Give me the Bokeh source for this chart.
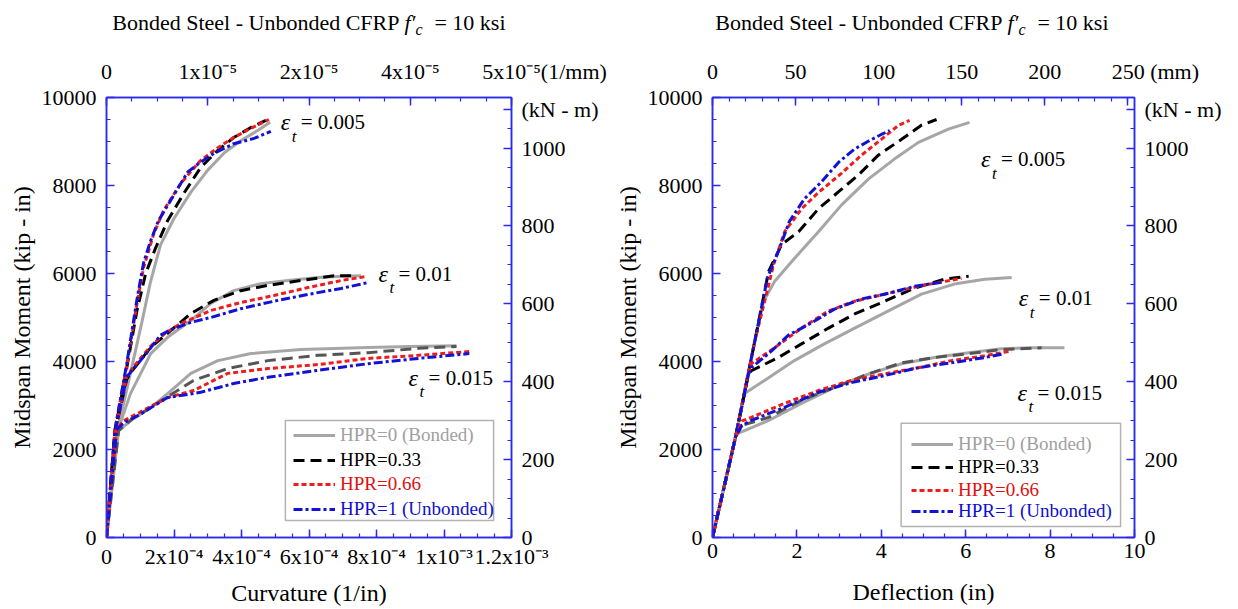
from bokeh.plotting import figure
from bokeh.models import Range1d, LinearAxis, FixedTicker, Label, Legend, LegendItem, BoxAnnotation
from bokeh.layouts import row, column
from bokeh.embed import file_html
from bokeh.resources import INLINE

FONT = "Liberation Serif"
AX_BLUE = "#2a2ae8"
KIPIN_TO_KNM = 0.112985
NB = "\u00a0"

# ---------------- data: left panel (curvature 1/in, moment kip-in) ----------------
series_names = ["HPR=0 (Bonded)", "HPR=0.33", "HPR=0.66", "HPR=1 (Unbonded)"]
strain_labels = ["0.005", "0.01", "0.015"]
title_main = "Bonded Steel - Unbonded CFRP"
title_tail = "= 10 ksi"

curv_e005_hpr0 = [0, 3.0e-5, 7.0e-5, 1.05e-4, 1.30e-4, 1.60e-4, 2.00e-4, 2.50e-4, 3.00e-4, 3.50e-4, 4.00e-4, 4.50e-4, 4.85e-4]
mom_c_e005_hpr0 = [0, 2350, 3700, 4900, 5800, 6650, 7250, 7850, 8350, 8750, 9030, 9260, 9440]
curv_e005_hpr033 = [0, 2.5e-5, 6.0e-5, 9.0e-5, 1.16e-4, 1.46e-4, 1.81e-4, 2.29e-4, 2.79e-4, 3.30e-4, 3.77e-4, 4.28e-4, 4.72e-4]
mom_c_e005_hpr033 = [0, 2400, 3850, 5150, 6000, 6590, 7200, 7820, 8410, 8800, 9090, 9320, 9480]
curv_e005_hpr066 = [0, 2.5e-5, 6.0e-5, 9.0e-5, 1.10e-4, 1.40e-4, 1.69e-4, 2.20e-4, 2.79e-4, 3.30e-4, 3.77e-4, 4.28e-4, 4.81e-4]
mom_c_e005_hpr066 = [0, 2450, 3900, 5300, 6140, 6900, 7430, 8050, 8570, 8860, 9090, 9300, 9500]
curv_e005_hpr1 = [0, 2.5e-5, 6.0e-5, 9.0e-5, 1.10e-4, 1.31e-4, 1.54e-4, 1.90e-4, 2.40e-4, 2.73e-4, 3.18e-4, 3.77e-4, 4.37e-4, 4.87e-4]
mom_c_e005_hpr1 = [0, 2450, 3950, 5400, 6250, 6750, 7200, 7660, 8300, 8500, 8730, 8950, 9070, 9230]

curv_e01_hpr0 = [0, 3.0e-5, 7.1e-5, 1.31e-4, 1.81e-4, 2.50e-4, 3.09e-4, 3.77e-4, 4.57e-4, 5.38e-4, 6.27e-4, 7.00e-4, 7.54e-4]
mom_c_e01_hpr0 = [0, 2350, 3270, 4180, 4550, 4930, 5320, 5610, 5770, 5840, 5910, 5940, 5950]
curv_e01_hpr033 = [0, 2.5e-5, 6.0e-5, 7.7e-5, 1.31e-4, 1.90e-4, 2.50e-4, 3.18e-4, 3.98e-4, 4.78e-4, 5.76e-4, 6.74e-4, 7.34e-4]
mom_c_e01_hpr033 = [0, 2400, 3600, 3800, 4320, 4700, 5090, 5390, 5610, 5730, 5840, 5950, 5950]
curv_e01_hpr066 = [0, 2.5e-5, 6.0e-5, 7.7e-5, 1.31e-4, 1.75e-4, 2.20e-4, 3.09e-4, 3.98e-4, 4.96e-4, 5.97e-4, 6.95e-4, 7.69e-4]
mom_c_e01_hpr066 = [0, 2400, 3650, 3850, 4350, 4650, 4860, 5160, 5340, 5500, 5680, 5840, 5930]
curv_e01_hpr1 = [0, 2.5e-5, 6.0e-5, 7.1e-5, 1.20e-4, 1.60e-4, 1.90e-4, 2.50e-4, 3.09e-4, 3.98e-4, 5.08e-4, 6.15e-4, 6.95e-4, 7.78e-4]
mom_c_e01_hpr1 = [0, 2400, 3650, 3750, 4200, 4600, 4720, 4890, 5000, 5200, 5390, 5550, 5660, 5800]

curv_e015_hpr0 = [0, 3.6e-5, 8.0e-5, 1.31e-4, 1.81e-4, 2.50e-4, 3.30e-4, 4.28e-4, 5.76e-4, 7.75e-4, 9.00e-4, 1.037e-3]
mom_c_e015_hpr0 = [0, 2430, 2700, 2950, 3270, 3730, 4020, 4180, 4270, 4320, 4340, 4360]
curv_e015_hpr033 = [0, 3.6e-5, 8.0e-5, 1.31e-4, 1.81e-4, 2.58e-4, 3.59e-4, 4.78e-4, 6.27e-4, 7.75e-4, 9.24e-4, 1.037e-3]
mom_c_e015_hpr033 = [0, 2430, 2720, 2950, 3200, 3570, 3840, 4020, 4140, 4200, 4300, 4340]
curv_e015_hpr066 = [0, 3.0e-5, 5.0e-5, 1.00e-4, 1.31e-4, 1.81e-4, 2.58e-4, 3.59e-4, 4.78e-4, 6.27e-4, 7.75e-4, 9.24e-4, 1.081e-3]
mom_c_e015_hpr066 = [0, 2450, 2650, 2850, 2980, 3180, 3340, 3730, 3840, 3930, 4070, 4140, 4230]
curv_e015_hpr1 = [0, 3.0e-5, 5.0e-5, 1.00e-4, 1.31e-4, 1.81e-4, 2.79e-4, 3.77e-4, 4.78e-4, 6.27e-4, 7.75e-4, 9.24e-4, 1.075e-3]
mom_c_e015_hpr1 = [0, 2450, 2600, 2800, 2950, 3180, 3300, 3500, 3640, 3800, 3950, 4070, 4180]

# ---------------- data: right panel (deflection in, moment kip-in) ----------------
defl_e005_hpr0 = [0, 0.55, 1.0, 1.21, 1.47, 1.94, 2.51, 3.06, 3.70, 4.31, 4.88, 5.59, 6.09]
mom_d_e005_hpr0 = [0, 2300, 4470, 5370, 5820, 6340, 6950, 7560, 8150, 8600, 8980, 9280, 9435]
defl_e005_hpr033 = [0, 0.55, 1.0, 1.33, 1.64, 2.04, 2.51, 2.99, 3.46, 3.93, 4.48, 4.95, 5.31]
mom_d_e005_hpr033 = [0, 2300, 4450, 6050, 6660, 6950, 7470, 7860, 8240, 8690, 9050, 9370, 9500]
defl_e005_hpr066 = [0, 0.55, 1.0, 1.45, 1.71, 2.11, 2.51, 3.06, 3.53, 4.00, 4.41, 4.67]
mom_d_e005_hpr066 = [0, 2300, 4450, 6210, 6950, 7470, 7840, 8280, 8690, 9050, 9370, 9480]
defl_e005_hpr1 = [0, 0.55, 1.0, 1.30, 1.56, 1.82, 2.18, 2.58, 2.99, 3.37, 3.70, 4.00, 4.20]
mom_d_e005_hpr1 = [0, 2300, 4450, 5900, 6500, 7180, 7700, 8080, 8530, 8830, 9010, 9160, 9250]

defl_e01_hpr0 = [0, 0.55, 0.76, 1.33, 1.94, 2.65, 3.37, 4.17, 4.95, 5.73, 6.45, 7.09]
mom_d_e01_hpr0 = [0, 2300, 3270, 3630, 4020, 4400, 4760, 5150, 5530, 5760, 5870, 5910]
defl_e01_hpr033 = [0, 0.55, 0.85, 0.92, 1.56, 2.11, 2.75, 3.37, 4.08, 4.79, 5.50, 6.07]
mom_d_e01_hpr033 = [0, 2300, 3700, 3790, 4090, 4400, 4760, 5080, 5370, 5670, 5870, 5940]
defl_e01_hpr066 = [0, 0.55, 0.85, 0.92, 1.47, 2.11, 2.75, 3.37, 4.17, 4.88, 5.50, 5.90]
mom_d_e01_hpr066 = [0, 2300, 3750, 3950, 4310, 4760, 5150, 5370, 5550, 5710, 5820, 5890]
defl_e01_hpr1 = [0, 0.55, 0.85, 0.92, 1.33, 1.80, 2.35, 2.89, 3.53, 4.17, 4.79, 5.43]
mom_d_e01_hpr1 = [0, 2300, 3700, 3860, 4180, 4600, 4880, 5190, 5420, 5550, 5710, 5800]

defl_e015_hpr0 = [0, 0.55, 0.62, 1.33, 2.11, 2.89, 3.70, 4.48, 5.26, 6.07, 6.85, 7.63, 8.34]
mom_d_e015_hpr0 = [0, 2300, 2370, 2660, 3050, 3410, 3720, 3950, 4090, 4200, 4290, 4310, 4310]
defl_e015_hpr033 = [0, 0.55, 0.70, 1.33, 2.11, 2.89, 3.70, 4.48, 5.26, 6.07, 6.85, 7.80]
mom_d_e015_hpr033 = [0, 2300, 2550, 2730, 3120, 3410, 3720, 3970, 4090, 4180, 4270, 4310]
defl_e015_hpr066 = [0, 0.55, 0.70, 0.92, 1.71, 2.51, 3.29, 4.08, 4.88, 5.66, 6.45, 7.09]
mom_d_e015_hpr066 = [0, 2300, 2650, 2730, 3050, 3340, 3570, 3720, 3860, 4020, 4130, 4240]
defl_e015_hpr1 = [0, 0.55, 0.70, 0.92, 1.71, 2.51, 3.29, 4.08, 4.88, 5.66, 6.45, 6.92]
mom_d_e015_hpr1 = [0, 2300, 2550, 2660, 2960, 3300, 3520, 3680, 3860, 3970, 4090, 4180]

# ---------------- ticks ----------------
moment_ticks = [0, 2000, 4000, 6000, 8000, 10000]
knm_ticks = [0, 200, 400, 600, 800, 1000]
knm_unit_tick = 1100
knm_unit_label = "(kN - m)"
curv_ticks = [0, 2e-4, 4e-4, 6e-4, 8e-4, 1e-3, 1.2e-3]
curv_tick_labels = ["0", "2x10\u207b\u2074", "4x10\u207b\u2074", "6x10\u207b\u2074", "8x10\u207b\u2074", "1x10\u207b\u00b3", "1.2x10\u207b\u00b3"]
curv_mm_ticks = [0, 1, 2, 3, 4]
curv_mm_tick_labels = ["0", "1x10\u207b\u2075", "2x10\u207b\u2075", "4x10\u207b\u2075", NB * 12 + "5x10\u207b\u2075(1/mm)"]
defl_ticks = [0, 2, 4, 6, 8, 10]
defl_mm_ticks = [0, 50, 100, 150, 200, 250]
defl_mm_tick_labels = ["0", "50", "100", "150", "200", NB * 10 + "250 (mm)"]

left_series = [
    [(curv_e005_hpr0, mom_c_e005_hpr0), (curv_e005_hpr033, mom_c_e005_hpr033), (curv_e005_hpr066, mom_c_e005_hpr066), (curv_e005_hpr1, mom_c_e005_hpr1)],
    [(curv_e01_hpr0, mom_c_e01_hpr0), (curv_e01_hpr033, mom_c_e01_hpr033), (curv_e01_hpr066, mom_c_e01_hpr066), (curv_e01_hpr1, mom_c_e01_hpr1)],
    [(curv_e015_hpr0, mom_c_e015_hpr0), (curv_e015_hpr033, mom_c_e015_hpr033), (curv_e015_hpr066, mom_c_e015_hpr066), (curv_e015_hpr1, mom_c_e015_hpr1)],
]
right_series = [
    [(defl_e005_hpr0, mom_d_e005_hpr0), (defl_e005_hpr033, mom_d_e005_hpr033), (defl_e005_hpr066, mom_d_e005_hpr066), (defl_e005_hpr1, mom_d_e005_hpr1)],
    [(defl_e01_hpr0, mom_d_e01_hpr0), (defl_e01_hpr033, mom_d_e01_hpr033), (defl_e01_hpr066, mom_d_e01_hpr066), (defl_e01_hpr1, mom_d_e01_hpr1)],
    [(defl_e015_hpr0, mom_d_e015_hpr0), (defl_e015_hpr033, mom_d_e015_hpr033), (defl_e015_hpr066, mom_d_e015_hpr066), (defl_e015_hpr1, mom_d_e015_hpr1)],
]

LINE_COLORS = ["#a6a6a6", "#000000", "#ee1c1c", "#1212d4"]
TEXT_COLORS = ["#a0a0a0", "#000000", "#e01010", "#1010cc"]
LINE_DASH = ["solid", "11 6", "5 3", "9 3 3 3"]
TITLE_H = 40


def style_axis(ax, tick_size="22px"):
    ax.axis_line_color = AX_BLUE
    ax.axis_line_width = 1.5
    ax.major_tick_line_color = AX_BLUE
    ax.minor_tick_line_color = AX_BLUE
    ax.major_tick_line_width = 1.5
    ax.minor_tick_line_width = 1.2
    ax.major_tick_in = 8
    ax.major_tick_out = 0
    ax.minor_tick_in = 4
    ax.minor_tick_out = 0
    ax.major_label_text_font = FONT
    ax.major_label_text_font_size = tick_size
    ax.major_label_text_color = "#000000"
    ax.axis_label_text_font = FONT
    ax.axis_label_text_font_size = "24px"
    ax.axis_label_text_font_style = "normal"
    ax.axis_label_text_color = "#000000"


def minor_list(start, stop, step):
    out = []
    v = start
    while v <= stop + 1e-12:
        out.append(v)
        v += step
    return out


def add_label(p, x, y, text, size, style="normal", align="left", baseline="middle", xo=0, yo=0, **kw):
    p.add_layout(Label(x=x, y=y, text=text, text_font=FONT, text_font_size=size,
                       text_font_style=style, text_align=align, text_baseline=baseline,
                       x_offset=xo, y_offset=yo, text_color="#000000", **kw))


def build(kind):
    if kind == "curv":
        width, bl, br, bt, bb = 611, 106, 100, 97 - TITLE_H, 72
        xr = Range1d(0, 1.2e-3)
        top_r = Range1d(0, 4)
        series = left_series
        xlabel = "Curvature (1/in)"
    else:
        width, bl, br, bt, bb = 627, 100, 104, 95 - TITLE_H, 71
        xr = Range1d(0, 10)
        top_r = Range1d(0, 254)
        series = right_series
        xlabel = "Deflection (in)"

    p = figure(width=width, height=609 - TITLE_H, x_range=xr, y_range=Range1d(0, 10000),
               extra_x_ranges={"top": top_r},
               extra_y_ranges={"kn": Range1d(0, 10000 * KIPIN_TO_KNM)},
               output_backend="svg", toolbar_location=None,
               min_border_left=bl, min_border_right=br, min_border_top=bt, min_border_bottom=bb)
    p.xgrid.visible = False
    p.ygrid.visible = False
    p.outline_line_color = AX_BLUE
    p.outline_line_width = 1.5

    xa = p.xaxis[0]
    style_axis(xa)
    xa.axis_label = xlabel
    xa.major_label_standoff = 6
    if kind == "curv":
        xa.axis_label_standoff = 8
        xa.ticker = FixedTicker(ticks=curv_ticks, minor_ticks=minor_list(0, 1.2e-3, 5e-5))
        xa.major_label_overrides = dict(zip(curv_ticks, curv_tick_labels))
    else:
        xa.axis_label_standoff = 18
        xa.ticker = FixedTicker(ticks=defl_ticks, minor_ticks=minor_list(0, 10, 0.5))

    ya = p.yaxis[0]
    style_axis(ya)
    ya.axis_label = "Midspan Moment (kip - in)"
    ya.ticker = FixedTicker(ticks=moment_ticks, minor_ticks=minor_list(0, 10000, 500))
    ya.major_label_standoff = 10
    ya.axis_label_standoff = 4

    ta = LinearAxis(x_range_name="top")
    style_axis(ta)
    ta.major_label_standoff = 14
    if kind == "curv":
        ta.ticker = FixedTicker(ticks=curv_mm_ticks, minor_ticks=minor_list(0, 4, 0.25))
        ta.major_label_overrides = dict(zip(curv_mm_ticks, curv_mm_tick_labels))
    else:
        ta.ticker = FixedTicker(ticks=defl_mm_ticks, minor_ticks=minor_list(0, 250, 10))
        ta.major_label_overrides = dict(zip(defl_mm_ticks, defl_mm_tick_labels))
    p.add_layout(ta, "above")

    ra = LinearAxis(y_range_name="kn")
    style_axis(ra)
    ra.major_label_standoff = 10
    ra.ticker = FixedTicker(ticks=knm_ticks + [knm_unit_tick], minor_ticks=minor_list(0, 1100, 50))
    ra.major_label_overrides = {knm_unit_tick: knm_unit_label}
    p.add_layout(ra, "right")

    legend_renderers = []
    for gi, group in enumerate(series):
        for si, (xs, ms) in enumerate(group):
            color = LINE_COLORS[si]
            if gi == 2 and si == 1:
                color = "#555555"
            r = p.line(xs, ms, line_color=color, line_dash=LINE_DASH[si], line_width=3)
            if gi == 0:
                legend_renderers.append(r)
    return p, legend_renderers


def title_fig(width, x_end_main, x_f, x_c, x_end):
    t = figure(width=width, height=TITLE_H, x_range=Range1d(0, width), y_range=Range1d(0, TITLE_H),
               output_backend="svg", toolbar_location=None, min_border=0)
    t.axis.visible = False
    t.xgrid.visible = False
    t.ygrid.visible = False
    t.outline_line_color = None
    yc = TITLE_H - 22
    add_label(t, x_end_main, yc, title_main, "22px", align="right")
    add_label(t, x_f, yc, "f\u2032", "22px", style="italic")
    add_label(t, x_c, yc, "c", "16px", style="italic", yo=-7)
    add_label(t, x_end, yc, title_tail, "22px", align="right")
    return t


p1, lr1 = build("curv")
p2, lr2 = build("defl")

t1 = title_fig(611, 399, 404, 415, 505)
t2 = title_fig(627, 391, 396, 407, 497)

# strain annotations
left_eps_pos = [(5.16e-4, 9432), (8.06e-4, 6000), (8.95e-4, 3636)]
right_eps_pos = [(6.36, 8600), (7.26, 5440), (7.23, 3295)]
for p, poss in [(p1, left_eps_pos), (p2, right_eps_pos)]:
    for (x, y), lab in zip(poss, strain_labels):
        add_label(p, x, y, "\u03b5", "24px", style="italic")
        add_label(p, x, y, "t", "17px", style="italic", xo=11, yo=-14)
        add_label(p, x, y, "= " + lab, "21px", xo=20)

# legend frames
p1.add_layout(BoxAnnotation(left=5.30e-4, right=1.147e-3, bottom=386, top=2659,
                            fill_color="white", fill_alpha=1, line_color="#000000", line_width=1.5))
p2.add_layout(BoxAnnotation(left=4.47, right=9.67, bottom=248, top=2596,
                            fill_color="white", fill_alpha=1, line_color="#000000", line_width=1.5))

for p, rends, vx, vys in [(p1, lr1, 187, [91, 66, 42, 17]), (p2, lr2, 199, [82, 59, 36, 15])]:
    for i, (r, vy) in enumerate(zip(rends, vys)):
        lg = Legend(items=[LegendItem(label=series_names[i], renderers=[r])],
                    location=(vx, vy), padding=0, margin=0, spacing=0,
                    border_line_alpha=0, background_fill_alpha=0,
                    glyph_width=42, glyph_height=20, label_height=20, label_standoff=5,
                    label_text_font=FONT, label_text_font_size="19px",
                    label_text_color=TEXT_COLORS[i])
        p.add_layout(lg)

layout = column(row(t1, t2), row(p1, p2))
open("out.html", "w").write(file_html(layout, INLINE))
